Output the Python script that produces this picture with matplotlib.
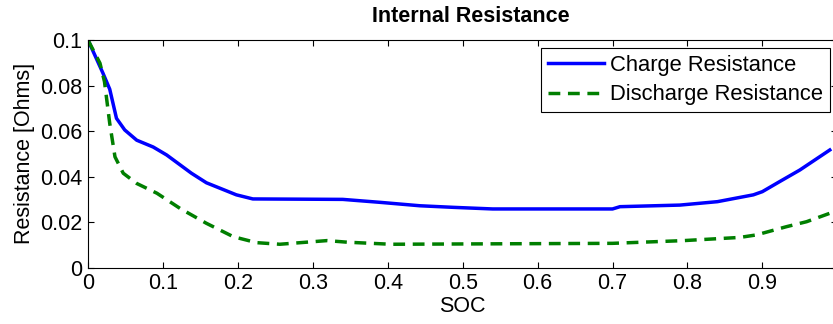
import matplotlib

matplotlib.use("Agg")
import matplotlib.pyplot as plt

# internal resistance vs state of charge
soc_charge = [0, 0.02, 0.029, 0.038, 0.049, 0.065, 0.087, 0.105, 0.138, 0.158,
              0.198, 0.22, 0.34, 0.39, 0.443, 0.488, 0.54, 0.70, 0.71, 0.79,
              0.84, 0.888, 0.90, 0.923, 0.95, 0.99]
r_charge = [0.1, 0.0854, 0.0784, 0.0656, 0.0605, 0.056, 0.053, 0.0495, 0.0415, 0.0373,
            0.032, 0.0302, 0.030, 0.0287, 0.0272, 0.0265, 0.0258, 0.0258, 0.0268, 0.0275,
            0.029, 0.032, 0.0334, 0.0378, 0.0429, 0.0517]

soc_discharge = [0, 0.016, 0.022, 0.029, 0.036, 0.047, 0.065, 0.092, 0.123, 0.158,
                 0.194, 0.225, 0.256, 0.319, 0.346, 0.404, 0.70, 0.795, 0.87, 0.892,
                 0.932, 0.959, 0.99]
r_discharge = [0.1, 0.0898, 0.0817, 0.0634, 0.0487, 0.0415, 0.037, 0.0327, 0.026, 0.0195,
               0.0136, 0.011, 0.0103, 0.0119, 0.0112, 0.0103, 0.0107, 0.0119, 0.0133, 0.0144,
               0.018, 0.0202, 0.0239]

x_ticks = [0, 0.1, 0.2, 0.3, 0.4, 0.5, 0.6, 0.7, 0.8, 0.9]
x_ticklabels = ["0", "0.1", "0.2", "0.3", "0.4", "0.5", "0.6", "0.7", "0.8", "0.9"]
y_ticks = [0, 0.02, 0.04, 0.06, 0.08, 0.1]
y_ticklabels = ["0", "0.02", "0.04", "0.06", "0.08", "0.1"]

plt.rcParams["font.family"] = ["Liberation Sans", "DejaVu Sans"]
FS = 15.5

W, H = 833, 324
fig = plt.figure(figsize=(W / 100, H / 100), dpi=100)
# axes run a little past the right edge of the canvas
x0, x1 = 88, 837.3
y_top, y_bot = 40, 267.7
ax = fig.add_axes([x0 / W, 1 - y_bot / H, (x1 - x0) / W, (y_bot - y_top) / H])

ax.plot(soc_charge, r_charge, color="#0000ff", lw=2.5, label="Charge Resistance")
ax.plot(soc_discharge, r_discharge, color="#007f00", lw=2.5,
        linestyle=(0, (3.4, 2.2)), label="Discharge Resistance")

ax.set_xlim(0, 1)
ax.set_ylim(0, 0.1)
ax.set_xticks(x_ticks)
ax.set_xticklabels(x_ticklabels)
ax.set_yticks(y_ticks)
ax.set_yticklabels(y_ticklabels)
ax.tick_params(direction="in", top=True, right=True, length=4, width=0.8,
               labelsize=FS, pad=4)
for s in ax.spines.values():
    s.set_linewidth(0.8)

ax.set_xlabel("SOC", fontsize=FS, labelpad=1)
ax.set_ylabel("Resistance [Ohms]", fontsize=FS, labelpad=4)
fig.text(471 / W, 1 - 17 / H, "Internal Resistance", fontsize=FS, fontweight="bold",
         ha="center", va="center")

leg = ax.legend(loc="upper right", bbox_to_anchor=(830 / W, 1 - 48 / H),
                bbox_transform=fig.transFigure, borderaxespad=0, fontsize=15.8,
                fancybox=False, framealpha=1, edgecolor="black", handlelength=2.55,
                handletextpad=0.3, labelspacing=0.4, borderpad=0.3)
leg.get_frame().set_linewidth(0.8)

fig.savefig("out.png", dpi=100)
